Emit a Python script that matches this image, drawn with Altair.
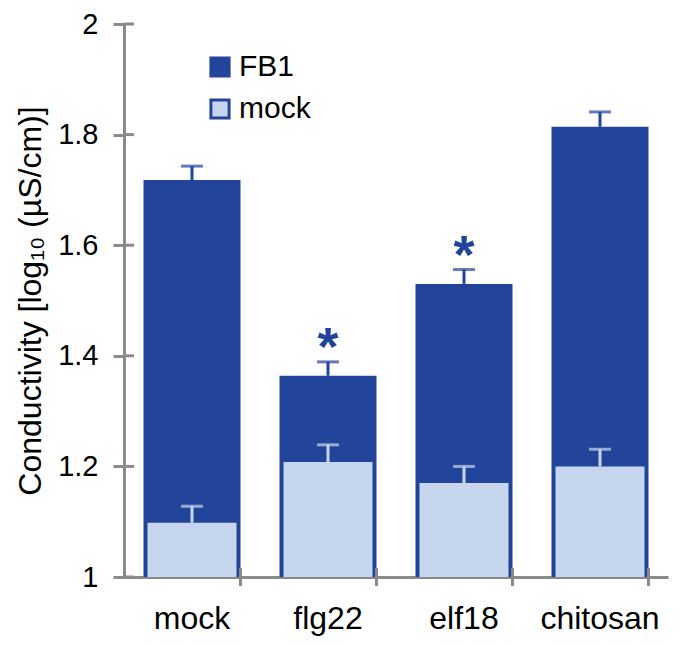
import altair as alt
import pandas as pd

categories = ["mock", "flg22", "elf18", "chitosan"]
fb1_vals = [1.718, 1.364, 1.530, 1.814]
fb1_err = [0.025, 0.025, 0.026, 0.027]
mock_vals = [1.098, 1.208, 1.170, 1.200]
mock_err = [0.030, 0.031, 0.030, 0.031]
significant = [False, True, True, False]
y_ticks = [1.0, 1.2, 1.4, 1.6, 1.8, 2.0]
series_names = ["FB1", "mock"]

DARK = "#22449a"
LIGHT = "#c6d6ee"
GRAY = "#8a8a8a"
FONT = "Liberation Sans"

rows = []
for i, c in enumerate(categories):
    rows.append(dict(cat=c, series="FB1", val=fb1_vals[i], top=fb1_vals[i] + fb1_err[i], base=1.0, sig=significant[i]))
    rows.append(dict(cat=c, series="mock", val=mock_vals[i], top=mock_vals[i] + mock_err[i], base=1.0, sig=False))
df = pd.DataFrame(rows)
ticks_df = pd.DataFrame({"v": y_ticks})
cat_df = pd.DataFrame({"cat": categories})

x_scale = alt.Scale(domain=categories, paddingInner=0.287, paddingOuter=0.1435)
y_scale = alt.Scale(domain=[1, 2], zero=False, nice=False)
color_scale = alt.Scale(domain=series_names, range=[DARK, LIGHT])

x_enc = alt.X("cat:N", scale=x_scale, sort=categories,
              axis=alt.Axis(title=None, labelAngle=0, ticks=False, tickSize=0,
                            labelFontSize=32, labelFont=FONT, labelColor="black",
                            labelBaseline="alphabetic", labelPadding=51,
                            domainColor=GRAY, domainWidth=3))
y_enc = alt.Y("val:Q", scale=y_scale,
              axis=alt.Axis(title="Conductivity [log₁₀ (µS/cm)]", values=y_ticks, format="~g",
                            tickSize=11, tickWidth=3, tickColor=GRAY,
                            domainColor=GRAY, domainWidth=3,
                            labelFontSize=29, labelFont=FONT, labelColor="black", labelPadding=15,
                            titleFontSize=32, titleFont=FONT, titleFontWeight="normal",
                            titleColor="black", titlePadding=10, grid=False))

base = alt.Chart(df)

dark_bar = base.transform_filter(alt.datum.series == "FB1").mark_bar(size=97).encode(
    x=x_enc, y=y_enc, y2="base:Q",
    color=alt.Color("series:N", scale=color_scale, sort=series_names,
                    legend=alt.Legend(title=None, orient="none", legendX=81, legendY=28,
                                      symbolType="square", symbolSize=330,
                                      symbolStrokeColor=DARK, symbolStrokeWidth=3,
                                      labelFontSize=30, labelFont=FONT, labelColor="black",
                                      labelOffset=4, rowPadding=10)),
)
dark_stem = base.transform_filter(alt.datum.series == "FB1").mark_rule(color=DARK, strokeWidth=3).encode(
    x=alt.X("cat:N", scale=x_scale, sort=categories), y=alt.Y("val:Q", scale=y_scale), y2="top:Q")
dark_cap = base.transform_filter(alt.datum.series == "FB1").mark_tick(color=DARK, size=22, thickness=3).encode(
    x=alt.X("cat:N", scale=x_scale, sort=categories), y=alt.Y("top:Q", scale=y_scale))

light_bar = base.transform_filter(alt.datum.series == "mock").mark_bar(size=89).encode(
    x=alt.X("cat:N", scale=x_scale, sort=categories), y=alt.Y("val:Q", scale=y_scale), y2="base:Q",
    color=alt.Color("series:N", scale=color_scale, sort=series_names))
light_stem = base.transform_filter(alt.datum.series == "mock").mark_rule(color=LIGHT, strokeWidth=3).encode(
    x=alt.X("cat:N", scale=x_scale, sort=categories), y=alt.Y("val:Q", scale=y_scale), y2="top:Q")
light_cap = base.transform_filter(alt.datum.series == "mock").mark_tick(color=LIGHT, size=22, thickness=3).encode(
    x=alt.X("cat:N", scale=x_scale, sort=categories), y=alt.Y("top:Q", scale=y_scale))

stars = base.transform_filter(alt.datum.sig == True).mark_text(
    text="*", color=DARK, fontSize=54, fontWeight="bold", font=FONT, baseline="alphabetic", dy=3).encode(
    x=alt.X("cat:N", scale=x_scale, sort=categories), y=alt.Y("top:Q", scale=y_scale))

y_inner = alt.Chart(ticks_df).mark_rule(color=GRAY, strokeWidth=3).encode(
    y=alt.Y("v:Q", scale=y_scale), x=alt.value(0), x2=alt.value(10))
x_ticks = alt.Chart(cat_df).mark_rule(color=GRAY, strokeWidth=3).encode(
    x=alt.X("cat:N", scale=x_scale, sort=categories, bandPosition=1),
    y=alt.value(544), y2=alt.value(562))

chart = alt.layer(dark_bar, dark_stem, dark_cap, light_bar, light_stem, light_cap, stars, y_inner, x_ticks).properties(
    width=544, height=553,
    autosize=alt.AutoSizeParams(type="none"),
    padding={"left": 116, "top": 16, "right": 5, "bottom": 61},
    background="white",
).configure_view(stroke=None)

chart.save("out.html", embed_options={"renderer": "svg", "actions": False})
